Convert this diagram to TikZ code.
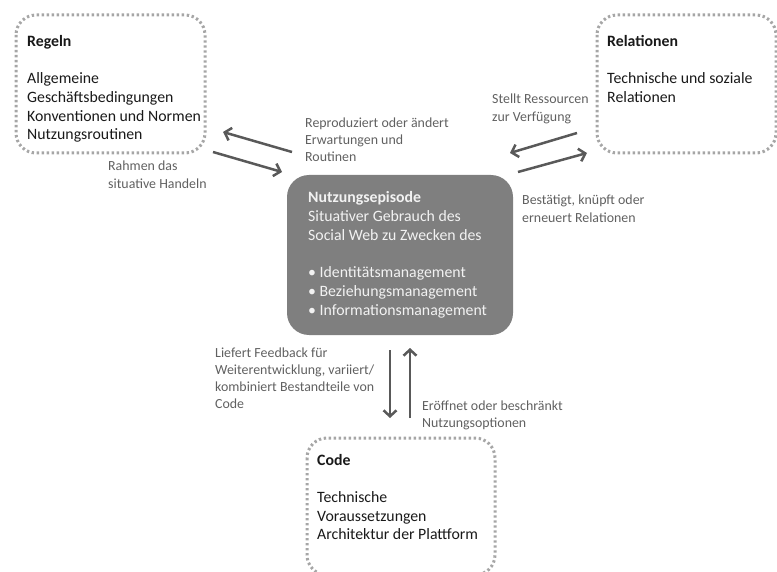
\documentclass[tikz,border=0pt]{standalone}
\usepackage{fontspec}
\setmainfont{Carlito}
\usetikzlibrary{arrows.meta}
\definecolor{dotgray}{HTML}{A6A6A6}
\definecolor{boxgray}{HTML}{7F7F7F}
\definecolor{arrgray}{HTML}{595959}
\definecolor{labgray}{HTML}{606060}
\definecolor{boxtext}{HTML}{F2F2F2}
\newcommand{\mylines}[1]{\begin{tabular}[t]{@{}l@{}}#1\end{tabular}}
\tikzset{
  dotbox/.style={draw=dotgray, line width=3pt, dash pattern=on 2.4pt off 2.6pt, rounded corners=20pt},
  boxtxt/.style={anchor=base west, inner sep=0pt, text=black!90, font=\fontsize{15.8}{18.7}\selectfont},
  labtxt/.style={anchor=base west, inner sep=0pt, text=labgray, font=\fontsize{13.9}{17.2}\selectfont},
  arr/.style={draw=arrgray, line width=2.5pt, -{Straight Barb[length=6pt,width=13pt]}}
}
\begin{document}
\begin{tikzpicture}[x=1pt,y=-1pt]
\useasboundingbox (0,0) rectangle (777,572);
% boxes
\draw[dotbox] (16,15) rectangle (205,153);
\draw[dotbox] (597,15) rectangle (776,153);
\draw[dotbox] (307,438) rectangle (495,575);
\fill[boxgray, rounded corners=22pt] (287,175) rectangle (513,335);
% box texts
\node[boxtxt] (regeln) at (27,46.5) {\mylines{\textbf{Regeln}\\ \\ Allgemeine\\ Geschäftsbedingungen\\ Konventionen und Normen\\ Nutzungsroutinen}};
\node[boxtxt] (relationen) at (607,46.5) {\mylines{\textbf{Relationen}\\ \\ Technische und soziale\\ Relationen}};
\node[boxtxt] (code) at (317,465) {\mylines{\textbf{Code}\\ \\ Technische\\ Voraussetzungen\\ Architektur der Plattform}};
\node[boxtxt, text=boxtext] (episode) at (308,203) {\mylines{\textbf{Nutzungsepisode}\\ Situativer Gebrauch des\\ Social Web zu Zwecken des\\ \\ • Identitätsmanagement\\ • Beziehungsmanagement\\ • Informationsmanagement}};
% labels
\node[labtxt] (l1) at (305,127.5) {\mylines{Reproduziert oder ändert\\ Erwartungen und\\ Routinen}};
\node[labtxt] (l2) at (108,171) {\mylines{Rahmen das\\ situative Handeln}};
\node[labtxt] (l3) at (492,104) {\mylines{Stellt Ressourcen\\ zur Verfügung}};
\node[labtxt] (l4) at (522,205) {\mylines{Bestätigt, knüpft oder\\ erneuert Relationen}};
\node[labtxt] (l5) at (215,357) {\mylines{Liefert Feedback für\\ Weiterentwicklung, variiert/\\ kombiniert Bestandteile von\\ Code}};
\node[labtxt] (l6) at (422,410) {\mylines{Eröffnet oder beschränkt\\ Nutzungsoptionen}};
% arrow coordinates
\coordinate (a1s) at (292,152); \coordinate (a1e) at (223,132);
\coordinate (a2s) at (213,152); \coordinate (a2e) at (282,172);
\coordinate (a3s) at (577,133); \coordinate (a3e) at (510,153);
\coordinate (a4s) at (518,172); \coordinate (a4e) at (587,153);
\coordinate (a5s) at (390,350); \coordinate (a5e) at (390,418);
\coordinate (a6s) at (410,418); \coordinate (a6e) at (410,348);
\draw[arr] (a1s) -- (a1e);
\draw[arr] (a2s) -- (a2e);
\draw[arr] (a3s) -- (a3e);
\draw[arr] (a4s) -- (a4e);
\draw[arr] (a5s) -- (a5e);
\draw[arr] (a6s) -- (a6e);
\end{tikzpicture}
\end{document}
